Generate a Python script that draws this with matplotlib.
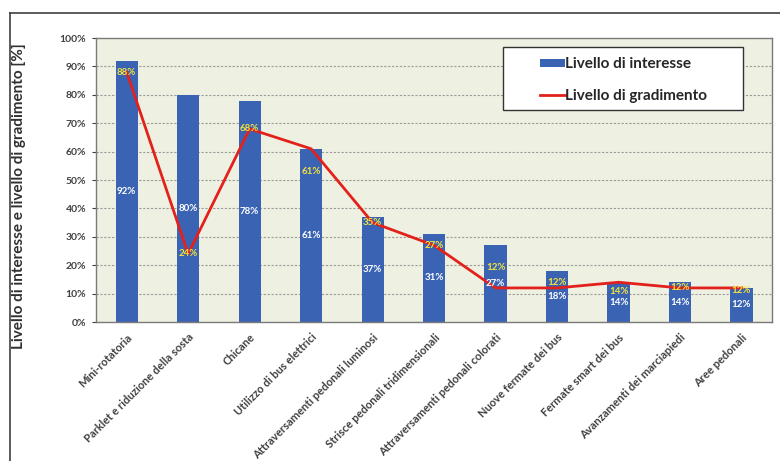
import numpy as np
import matplotlib.pyplot as plt
from matplotlib.lines import Line2D
from matplotlib.patches import Rectangle

# > Data:
categories = [
    "Mini-rotatoria",
    "Parklet e riduzione della sosta",
    "Chicane",
    "Utilizzo di bus elettrici",
    "Attraversamenti pedonali luminosi",
    "Strisce pedonali tridimensionali",
    "Attraversamenti pedonali colorati",
    "Nuove fermate dei bus",
    "Fermate smart dei bus",
    "Avanzamenti dei marciapiedi",
    "Aree pedonali",
]
interesse = [92, 80, 78, 61, 37, 31, 27, 18, 14, 14, 12]
gradimento = [88, 24, 68, 61, 35, 27, 12, 12, 14, 12, 12]
yticks = np.arange(0, 101, 10)
# <

# > Font setting:
plt.rcParams["font.family"] = ["Lato", "DejaVu Sans"]
FONT_LABELS = 11
FONT_YTICKLABELS = 7.5
FONT_XTICKLABELS = 8
FONT_LEGENDS = 11
FONT_VALUES = 7
# <

BAR_COLOR = "#3b63b3"
LINE_COLOR = "#e3211c"
BG_COLOR = "#eef1e1"

# vertical shift (points) of the line labels, so they don't sit on the bar labels
grad_label_dy = [0, 0, 0, -16, 0, 0, 15, 4, -7, 0, -2]

fig = plt.figure(figsize=(7.8, 4.61), dpi=100)
ax = fig.add_axes([0.123, 0.3015, 0.867, 0.616])
ax.set_facecolor(BG_COLOR)

x = np.arange(len(categories))
ax.bar(x, interesse, width=0.36, color=BAR_COLOR, zorder=2,
       label="Livello di interesse")
ax.plot(x, gradimento, color=LINE_COLOR, linewidth=2, zorder=3,
        label="Livello di gradimento")

# value labels
for xi, v in zip(x, interesse):
    ax.text(xi, v / 2, f"{v}%", ha="center", va="center", color="white",
            fontsize=FONT_VALUES, fontweight="bold", zorder=4)
for xi, v, dy in zip(x, gradimento, grad_label_dy):
    ax.annotate(f"{v}%", (xi, v), xytext=(0, dy), textcoords="offset points",
                ha="center", va="center", color="#f2e43a",
                fontsize=FONT_VALUES, fontweight="bold", zorder=4)

# > axes
ax.set_xlim(-0.5, len(categories) - 0.5)
ax.set_ylim(0, 100)
ax.set_yticks(yticks)
ax.set_yticklabels([f"{t}%" for t in yticks])
ax.set_xticks(x)
ax.set_xticklabels(categories, rotation=45, ha="right",
                   rotation_mode="anchor")
ax.tick_params(axis="x", labelsize=FONT_XTICKLABELS, colors="#404040",
               length=0, pad=7)
ax.tick_params(axis="y", labelsize=FONT_YTICKLABELS, colors="#404040",
               length=3, pad=4)
for lab in ax.get_xticklabels() + ax.get_yticklabels():
    lab.set_fontweight("bold")
ax.yaxis.grid(True, linestyle=(0, (2, 1.5)), color="#9a9a9a",
              linewidth=0.8, zorder=1)
ax.set_axisbelow(True)
for s in ax.spines.values():
    s.set_color("#7a7a7a")
    s.set_linewidth(1.0)
ax.set_ylabel("Livello di interesse e livello di gradimento [%]",
              fontsize=FONT_LABELS, fontweight="bold", color="#303030")
ax.yaxis.set_label_coords(-0.104, 0.444)
# <

# > legend: entries centred in a wide framed box
handles, labels = ax.get_legend_handles_labels()
leg = ax.legend(handles[::-1], labels[::-1], loc="center",
                bbox_to_anchor=(0.78, 0.852), fontsize=FONT_LEGENDS,
                frameon=False, labelspacing=1.15, handlelength=1.6,
                handletextpad=0.0, handleheight=0.4)
for t in leg.get_texts():
    t.set_fontweight("bold")
    t.set_color("#262626")
ax.add_patch(Rectangle((0.602, 0.746), 0.355, 0.222, transform=ax.transAxes,
                       facecolor="white", edgecolor="#333333",
                       linewidth=1.0, zorder=4))
leg.set_zorder(5)
# <

# outer frame
fig.add_artist(Line2D([10 / 780, 1.0], [1 - 13 / 461, 1 - 13 / 461],
                      color="#404040", linewidth=1.2))
fig.add_artist(Line2D([10 / 780, 10 / 780], [0.0, 1 - 13 / 461],
                      color="#404040", linewidth=1.2))

fig.savefig("out.png", dpi=100)
